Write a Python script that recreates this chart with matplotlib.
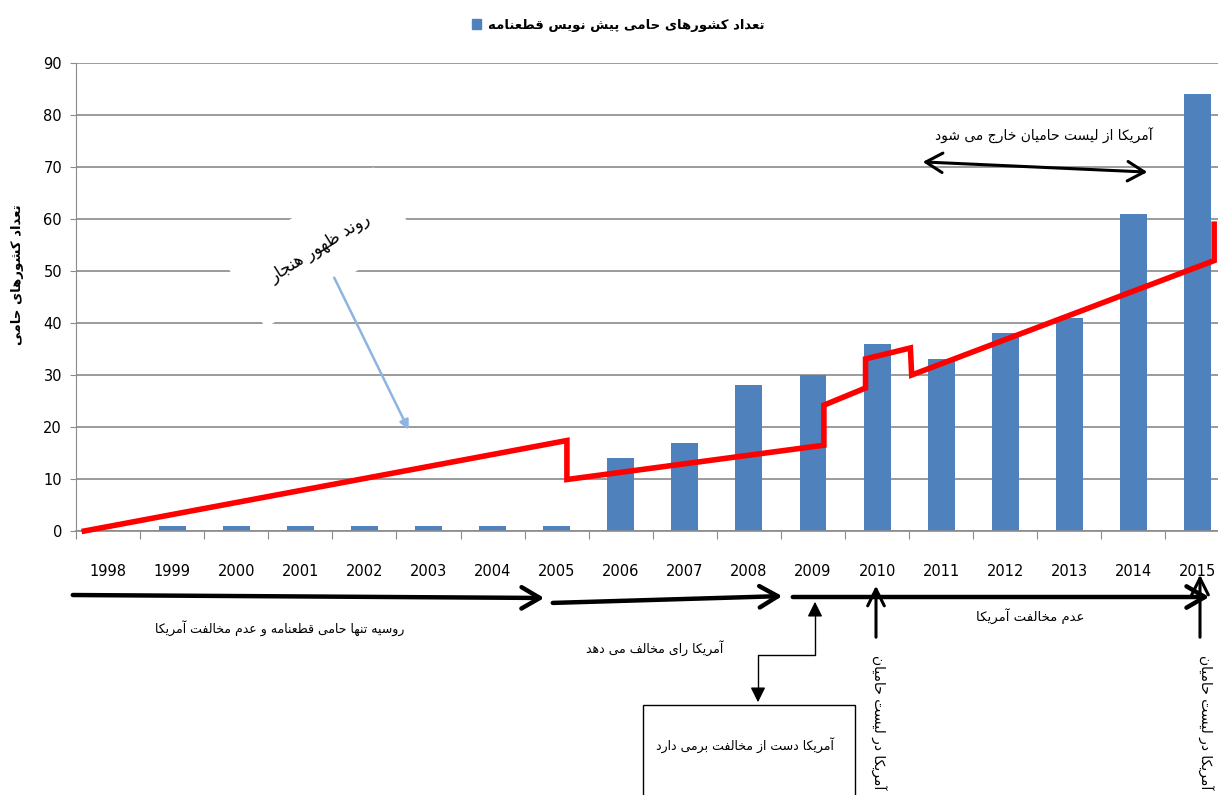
import numpy as np
import matplotlib
matplotlib.use("Agg")
import matplotlib.pyplot as plt
from matplotlib.patches import Patch, Rectangle, FancyArrowPatch

plt.rcParams['font.family'] = ['DejaVu Sans']

# Data
years = [str(y) for y in range(1998, 2016)]
supporters = [0, 1, 1, 1, 1, 1, 1, 1, 14, 17, 28, 30, 36, 33, 38, 41, 61, 84]

# hand-drawn red trend line (category index, value)
trend_x = [-0.37, 7.16, 7.16, 11.17, 11.17, 11.82, 11.82, 12.52, 12.54, 17.26, 17.26]
trend_y = [0, 17.4, 9.9, 16.5, 24.2, 27.5, 33.1, 35.2, 30.0, 52.0, 59.0]

legend_label = "تعداد کشورهای حامی پیش نویس قطعنامه"
y_label = "تعداد کشورهای حامی"
trend_label = "روند ظهور هنجار"
top_note = "آمریکا از لیست حامیان خارج می شود"
note_russia = "روسیه تنها حامی قطعنامه و عدم مخالفت آمریکا"
note_against = "آمریکا رای مخالف می دهد"
note_no_against = "عدم مخالفت آمریکا"
note_box = "آمریکا دست از مخالفت برمی دارد"
note_list = "آمریکا در لیست حامیان"

# minimal Arabic/Persian shaping: (isolated, final, initial, medial)
FORMS = {
    '\u0627': ('\uFE8D', '\uFE8E', None, None),
    '\u0622': ('\uFE81', '\uFE82', None, None),
    '\u0628': ('\uFE8F', '\uFE90', '\uFE91', '\uFE92'),
    '\u067E': ('\uFB56', '\uFB57', '\uFB58', '\uFB59'),
    '\u062A': ('\uFE95', '\uFE96', '\uFE97', '\uFE98'),
    '\u062C': ('\uFE9D', '\uFE9E', '\uFE9F', '\uFEA0'),
    '\u062D': ('\uFEA1', '\uFEA2', '\uFEA3', '\uFEA4'),
    '\u062E': ('\uFEA5', '\uFEA6', '\uFEA7', '\uFEA8'),
    '\u062F': ('\uFEA9', '\uFEAA', None, None),
    '\u0631': ('\uFEAD', '\uFEAE', None, None),
    '\u0632': ('\uFEAF', '\uFEB0', None, None),
    '\u0633': ('\uFEB1', '\uFEB2', '\uFEB3', '\uFEB4'),
    '\u0634': ('\uFEB5', '\uFEB6', '\uFEB7', '\uFEB8'),
    '\u0637': ('\uFEC1', '\uFEC2', '\uFEC3', '\uFEC4'),
    '\u0638': ('\uFEC5', '\uFEC6', '\uFEC7', '\uFEC8'),
    '\u0639': ('\uFEC9', '\uFECA', '\uFECB', '\uFECC'),
    '\u0641': ('\uFED1', '\uFED2', '\uFED3', '\uFED4'),
    '\u0642': ('\uFED5', '\uFED6', '\uFED7', '\uFED8'),
    '\u06A9': ('\uFB8E', '\uFB8F', '\uFB90', '\uFB91'),
    '\u06AF': ('\uFB92', '\uFB93', '\uFB94', '\uFB95'),
    '\u0644': ('\uFEDD', '\uFEDE', '\uFEDF', '\uFEE0'),
    '\u0645': ('\uFEE1', '\uFEE2', '\uFEE3', '\uFEE4'),
    '\u0646': ('\uFEE5', '\uFEE6', '\uFEE7', '\uFEE8'),
    '\u0648': ('\uFEED', '\uFEEE', None, None),
    '\u0647': ('\uFEE9', '\uFEEA', '\uFEEB', '\uFEEC'),
    '\u06CC': ('\uFBFC', '\uFBFD', '\uFBFE', '\uFBFF'),
}


def shape(s):
    out = []
    for i, ch in enumerate(s):
        f = FORMS.get(ch)
        if f is None:
            out.append(ch)
            continue
        prev = s[i - 1] if i > 0 else ''
        nxt = s[i + 1] if i < len(s) - 1 else ''
        pj = prev in FORMS and FORMS[prev][2] is not None
        nj = nxt in FORMS and f[2] is not None
        if pj and nj:
            out.append(f[3])
        elif pj:
            out.append(f[1])
        elif nj:
            out.append(f[2])
        else:
            out.append(f[0])
    return ''.join(reversed(out))


W, H = 1218, 795


def fp(px, py):
    # pixel position -> figure fraction
    return (px / W, 1 - py / H)


def fig_arrow(p0, p1, **kw):
    fig.add_artist(FancyArrowPatch(fp(*p0), fp(*p1), transform=fig.transFigure, **kw))


fig = plt.figure(figsize=(12.18, 7.95), dpi=100)
ax = fig.add_axes([76 / W, 1 - 531 / H, 1 - 76 / W, (531 - 63) / H])

x = np.arange(len(years))
ax.bar(x, supporters, width=0.42, color='#4F81BD', zorder=2)
ax.plot(trend_x, trend_y, color='#FF0000', lw=4, zorder=3, clip_on=False,
        solid_joinstyle='miter')

ax.set_xlim(-0.5, 17.32)
ax.set_ylim(0, 90)
ax.set_yticks(range(0, 91, 10))
ax.yaxis.grid(True, color='#8a8a8a', lw=1.2)
ax.set_axisbelow(True)
for s in ['top', 'right']:
    ax.spines[s].set_visible(False)
ax.spines['left'].set_color('#8a8a8a')
ax.spines['bottom'].set_color('#8a8a8a')
ax.spines['bottom'].set_linewidth(1.2)

ax.set_xticks(np.arange(-0.5, 17.5, 1))
ax.set_xticklabels([])
ax.set_xticks(x, minor=True)
ax.set_xticklabels(years, minor=True, fontsize=10.5)
ax.tick_params(axis='x', which='major', length=6, color='#8a8a8a')
ax.tick_params(axis='x', which='minor', length=0, pad=24)
ax.tick_params(axis='y', length=4, color='#8a8a8a', labelsize=10.5, pad=6)

# legend
fig.legend(handles=[Patch(color='#4F81BD')], labels=[shape(legend_label)],
           loc='center', bbox_to_anchor=fp(618, 25), frameon=False,
           handlelength=0.7, handleheight=0.7, handletextpad=0.5,
           prop={'weight': 'bold', 'size': 9.5})

fig.text(*fp(18, 275), shape(y_label), rotation=90, ha='center', va='center',
         fontsize=9.5, fontweight='bold')

# trend label with white background hiding gridlines
ax.text(3.3, 54.5, shape(trend_label), rotation=32, ha='center', va='center',
        fontsize=12, zorder=4,
        bbox=dict(facecolor='white', edgecolor='none', pad=22))
ax.annotate('', xy=(4.71, 19.0), xytext=(3.51, 49.2),
            arrowprops=dict(arrowstyle='-|>', color='#8DB4E2', lw=1.8,
                            mutation_scale=14), zorder=5)

# top double arrow
ax.text(14.6, 76.0, shape(top_note), ha='center', va='center', fontsize=10)
ax.annotate('', xy=(16.26, 69.0), xytext=(12.67, 71.0),
            arrowprops=dict(arrowstyle='<->,head_length=0.6,head_width=0.35',
                            color='black', lw=2.2, mutation_scale=20))

# timeline arrows below the axis
big = dict(arrowstyle='->,head_length=0.6,head_width=0.35', color='black', lw=3.2,
           mutation_scale=22)
fig_arrow((70, 595), (547, 598), **big)
fig_arrow((550, 603), (785, 596), **big)
fig_arrow((790, 597), (1212, 597), **big)
up = dict(arrowstyle='->,head_length=0.6,head_width=0.3', color='black', lw=2.2,
          mutation_scale=20)
fig_arrow((876, 640), (876, 583), **up)
fig_arrow((1200, 640), (1200, 572), **up)

# connector from box to timeline
fig.add_artist(plt.Line2D([758 / W, 758 / W, 815 / W, 815 / W],
                          [1 - 690 / H, 1 - 655 / H, 1 - 655 / H, 1 - 610 / H],
                          color='black', lw=1))
thin = dict(arrowstyle='-|>,head_length=0.5,head_width=0.25', color='black', lw=1,
            mutation_scale=18)
fig_arrow((815, 615), (815, 599), **thin)
fig_arrow((758, 688), (758, 705), **thin)
fig.add_artist(Rectangle(fp(643, 800), 212 / W, 95 / H, transform=fig.transFigure,
                         facecolor='white', edgecolor='black', lw=1))

fig.text(*fp(745, 745), shape(note_box), ha='center', va='center', fontsize=9)
fig.text(*fp(280, 628), shape(note_russia), ha='center', va='center', fontsize=9)
fig.text(*fp(655, 648), shape(note_against), ha='center', va='center', fontsize=9)
fig.text(*fp(1030, 616), shape(note_no_against), ha='center', va='center', fontsize=9.5)
fig.text(*fp(878, 655), shape(note_list), rotation=-90, ha='center', va='top',
         fontsize=10)
fig.text(*fp(1205, 655), shape(note_list), rotation=-90, ha='center', va='top',
         fontsize=10)

fig.savefig('out.png', dpi=100)
